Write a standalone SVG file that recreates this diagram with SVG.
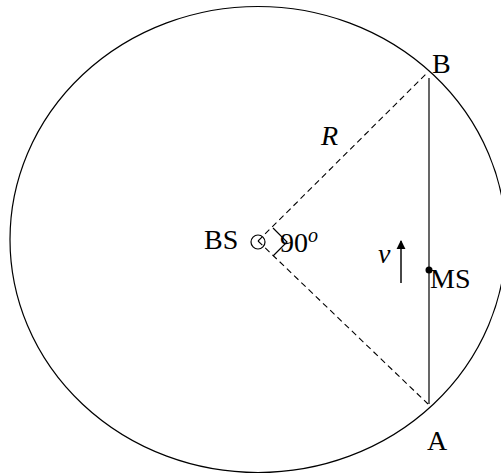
<svg xmlns="http://www.w3.org/2000/svg" width="501" height="476" viewBox="0 0 501 476">
<defs>
<style>
text{font-family:"Liberation Serif","DejaVu Serif",serif;font-size:28px;fill:#000}
.it{font-style:italic}
.dash{stroke:#000;stroke-width:1.1;stroke-dasharray:6,4;fill:none}
.ln{stroke:#000;stroke-width:1.2;fill:none}
</style>
<marker id="ah" viewBox="0 0 10 10" refX="9" refY="5" markerWidth="5" markerHeight="6" orient="auto">
<path d="M0,0 L10,5 L0,10 z" fill="#000"/>
</marker>
</defs>
<rect width="501" height="476" fill="#fff"/>
<g id="cell">
<ellipse cx="258" cy="239.5" rx="248" ry="233" class="ln"/>
</g>
<g id="connectors">
<line x1="258" y1="241" x2="428" y2="72" class="dash"/>
<line x1="258" y1="241" x2="428" y2="404" class="dash"/>
<line x1="429" y1="78" x2="429" y2="404" class="ln"/>
<polyline points="273,228 287,242 273,256" class="ln"/>
<line x1="401" y1="283" x2="401" y2="241" stroke="#333" stroke-width="1.8" marker-end="url(#ah)"/>
</g>
<g id="BS">
<circle cx="258" cy="242" r="7" class="ln" fill="none"/>
<text x="204" y="249">BS</text>
</g>
<g id="angle">
<text x="280" y="252">90<tspan class="it" font-size="20" dy="-10">o</tspan></text>
</g>
<g id="R"><text x="321" y="145" class="it">R</text></g>
<g id="B"><text x="432" y="73">B</text></g>
<g id="A"><text x="427" y="450">A</text></g>
<g id="MS">
<circle cx="429" cy="270" r="3.5" fill="#000"/>
<text x="430" y="288">MS</text>
</g>
<g id="v"><text x="378" y="263" class="it">v</text></g>
</svg>
